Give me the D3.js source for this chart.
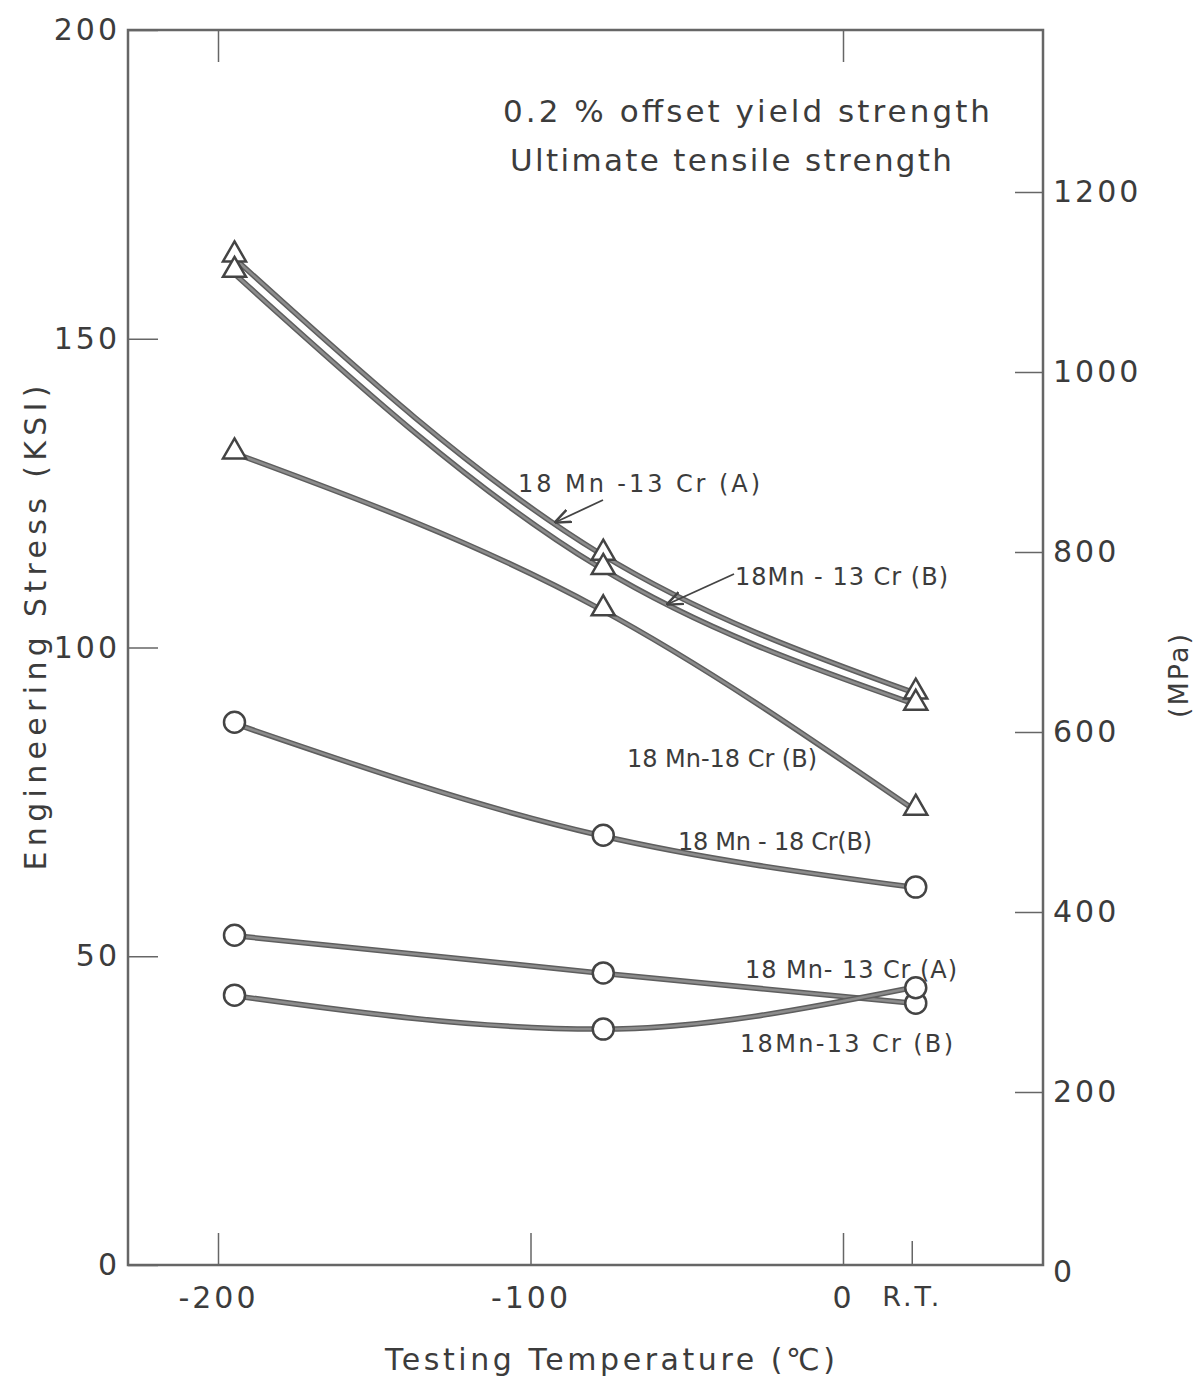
<!DOCTYPE html>
<html>
<head>
<meta charset="utf-8">
<script src="https://cdn.jsdelivr.net/npm/d3@7"></script>
<style>
  body { margin: 0; background: #fff; }
  .chart text { font-family: "DejaVu Sans", sans-serif; fill: #3c3c3c; }
</style>
</head>
<body>
<div class="chart"></div>
<script>
// test temperatures (C): liquid nitrogen, dry ice, room temp
var temps = [-196, -78, 22];

// ultimate tensile strength (KSI), triangles
var uts1813A = [163.6, 115.3, 92.8];
var uts1813B = [161.1, 113.0, 91.0];
var uts1818B = [131.7, 106.3, 74.0];

// 0.2% offset yield strength (KSI), circles
var ys1818B = [87.9, 69.6, 61.2];
var ys1813A = [53.4, 47.3, 42.4];
var ys1813B = [43.7, 38.2, 44.9];

var ksiTicks = [0, 50, 100, 150, 200];
var mpaTicks = [0, 200, 400, 600, 800, 1000, 1200];
var tempTicks = [-200, -100, 0];

var svgWidth = 1193;
var svgHeight = 1384;

var svg = d3.select(".chart")
  .append("svg")
  .attr("width", svgWidth)
  .attr("height", svgHeight);

var x = d3.scaleLinear().domain([-228.8, 64]).range([128, 1043]);
var y = d3.scaleLinear().domain([0, 200]).range([1265, 30]);
var yMPa = d3.scaleLinear().domain([0, 1380]).range([1272, 30]);

var axisColor = "#666";

// frame
svg.append("rect")
  .attr("x", x.range()[0])
  .attr("y", y.range()[1])
  .attr("width", x.range()[1] - x.range()[0])
  .attr("height", y.range()[0] - y.range()[1])
  .attr("fill", "none")
  .attr("stroke", axisColor)
  .attr("stroke-width", 2.5);

function styleAxis(g, size) {
  g.select(".domain").remove();
  g.selectAll(".tick line").attr("stroke", axisColor).attr("stroke-width", 1.5);
  g.selectAll(".tick text")
    .style("font-size", size + "px")
    .style("letter-spacing", "3px");
}

var plain = function(d) { return String(d); };

// left KSI axis
svg.append("g")
  .attr("transform", "translate(" + x.range()[0] + ",0)")
  .call(d3.axisLeft(y).tickValues(ksiTicks).tickSize(-30).tickPadding(8).tickFormat(plain))
  .call(styleAxis, 30);

// right MPa axis
var right = svg.append("g")
  .attr("transform", "translate(" + x.range()[1] + ",0)")
  .call(d3.axisRight(yMPa).tickValues(mpaTicks).tickSize(-28).tickPadding(10).tickFormat(plain))
  .call(styleAxis, 30);
right.selectAll(".tick line").filter(function(d) { return d == 0; }).remove();

// bottom temperature axis
svg.append("g")
  .attr("transform", "translate(0," + y.range()[0] + ")")
  .call(d3.axisBottom(x).tickValues(tempTicks).tickSize(-32).tickPadding(22).tickFormat(plain))
  .call(styleAxis, 30);

svg.append("g")
  .attr("transform", "translate(0," + y.range()[0] + ")")
  .call(d3.axisBottom(x).tickValues([22]).tickSize(-24).tickPadding(22)
    .tickFormat(function() { return "R.T."; }))
  .call(styleAxis, 27);

// top ticks
svg.append("g")
  .attr("transform", "translate(0," + y.range()[1] + ")")
  .call(d3.axisTop(x).tickValues([-200, 0]).tickSize(-32).tickFormat(""))
  .call(styleAxis, 30);

// axis titles
svg.append("text")
  .attr("transform", "translate(46,628) rotate(-90)")
  .attr("text-anchor", "middle")
  .attr("textLength", 485)
  .style("font-size", "30px")
  .text("Engineering Stress (KSI)");

svg.append("text")
  .attr("transform", "translate(1188,675) rotate(-90)")
  .attr("text-anchor", "middle")
  .style("font-size", "27px")
  .style("letter-spacing", "2px")
  .text("(MPa)");

svg.append("text")
  .attr("x", 610)
  .attr("y", 1370)
  .attr("text-anchor", "middle")
  .attr("textLength", 450)
  .style("font-size", "30px")
  .text("Testing Temperature (\u2103)");

// legend text
svg.append("text")
  .attr("x", 503).attr("y", 122)
  .attr("textLength", 487)
  .style("font-size", "31px")
  .text("0.2 % offset yield strength");

svg.append("text")
  .attr("x", 510).attr("y", 171)
  .attr("textLength", 442)
  .style("font-size", "31px")
  .text("Ultimate tensile strength");

// curves
var line = d3.line()
  .x(function(d) { return x(d[0]); })
  .y(function(d) { return y(d[1]); })
  .curve(d3.curveMonotoneX);

var series = [
  { vals: uts1813A, mark: "tri" },
  { vals: uts1813B, mark: "tri" },
  { vals: uts1818B, mark: "tri" },
  { vals: ys1818B, mark: "circ" },
  { vals: ys1813A, mark: "circ" },
  { vals: ys1813B, mark: "circ" }
];

series.forEach(function(s) {
  var pts = d3.zip(temps, s.vals);
  svg.append("path")
    .attr("d", line(pts))
    .attr("fill", "none")
    .attr("stroke", "#5e5e5e")
    .attr("stroke-width", 5.5);
  svg.append("path")
    .attr("d", line(pts))
    .attr("fill", "none")
    .attr("stroke", "#8c8c8c")
    .attr("stroke-width", 2.5);
});

var triangle = d3.symbol().type(d3.symbolTriangle).size(230);

series.forEach(function(s) {
  var pts = d3.zip(temps, s.vals);
  if (s.mark == "tri") {
    svg.selectAll(null)
      .data(pts)
      .enter()
      .append("path")
      .attr("d", triangle)
      .attr("transform", function(d) { return "translate(" + (x(d[0]) + 4) + "," + y(d[1]) + ")"; })
      .attr("fill", "#fff")
      .attr("stroke", "#444")
      .attr("stroke-width", 2.5);
  } else {
    svg.selectAll(null)
      .data(pts)
      .enter()
      .append("circle")
      .attr("cx", function(d) { return x(d[0]) + 4; })
      .attr("cy", function(d) { return y(d[1]); })
      .attr("r", 10.5)
      .attr("fill", "#fff")
      .attr("stroke", "#444")
      .attr("stroke-width", 2.5);
  }
});

// series labels
var labels = [
  { t: "18 Mn -13 Cr  (A)", x: 518, y: 492, w: 242 },
  { t: "18Mn - 13 Cr (B)", x: 735, y: 585, w: 213 },
  { t: "18 Mn-18 Cr (B)", x: 627, y: 767, w: 190 },
  { t: "18 Mn - 18 Cr(B)", x: 678, y: 850, w: 194 },
  { t: "18 Mn- 13 Cr  (A)", x: 745, y: 978, w: 212 },
  { t: "18Mn-13 Cr  (B)", x: 740, y: 1052, w: 213 }
];

svg.selectAll(null)
  .data(labels)
  .enter()
  .append("text")
  .attr("x", function(d) { return d.x; })
  .attr("y", function(d) { return d.y; })
  .attr("textLength", function(d) { return d.w; })
  .style("font-size", "24px")
  .text(function(d) { return d.t; });

// leader arrows
svg.append("defs").append("marker")
  .attr("id", "head")
  .attr("viewBox", "0 0 10 10")
  .attr("refX", 9).attr("refY", 5)
  .attr("markerWidth", 9).attr("markerHeight", 9)
  .attr("orient", "auto")
  .append("path")
  .attr("d", "M0,1 L10,5 L0,9")
  .attr("fill", "none")
  .attr("stroke", "#444")
  .attr("stroke-width", 1.5);

[[603, 500, 556, 522], [734, 574, 668, 604]].forEach(function(a) {
  svg.append("line")
    .attr("x1", a[0]).attr("y1", a[1])
    .attr("x2", a[2]).attr("y2", a[3])
    .attr("stroke", "#444")
    .attr("stroke-width", 1.8)
    .attr("marker-end", "url(#head)");
});
</script>
</body>
</html>
